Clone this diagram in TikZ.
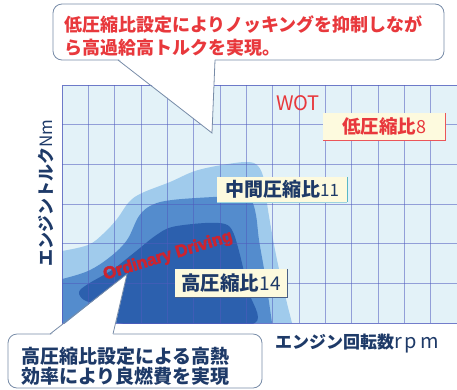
\documentclass[tikz,border=0pt]{standalone}
\usepackage{fontspec}
\setmainfont{Liberation Sans}
\newfontfamily\cjk{Noto Sans CJK JP}
\newfontfamily\sansbold{Liberation Sans}[FakeBold=3]
\definecolor{bgc}{RGB}{227,242,248}
\definecolor{lb}{RGB}{160,203,236}
\definecolor{mb}{RGB}{84,140,205}
\definecolor{db}{RGB}{44,96,174}
\definecolor{gridc}{RGB}{80,92,190}
\definecolor{navy}{RGB}{30,58,104}
\definecolor{tred}{RGB}{232,56,60}
\definecolor{ordred}{RGB}{204,36,48}
\definecolor{cream}{RGB}{253,250,222}
\definecolor{callb}{RGB}{120,140,168}
\definecolor{teal}{RGB}{90,184,200}
\tikzset{
  callbox/.style={draw=callb, fill=white, line width=0.8pt, rounded corners=9pt},
  lblbox/.style={fill=cream, inner sep=0pt, font=\cjk},
  gridline/.style={gridc, opacity=0.55, line width=0.7pt},
}
\begin{document}
\begin{tikzpicture}[x=1pt,y=-1pt]
\useasboundingbox (0,0) rectangle (457,389);
% chart background
\fill[bgc] (62,85) rectangle (457,323);
% regions
\fill[lb] plot[smooth, tension=0.6] coordinates {(62,251) (88,245) (103,234) (117,219) (129,202) (142,193) (170,182) (195,171) (222,165) (247,162) (258,166) (264,180) (268,210) (276,255) (285,295) (292,323)} -- (62,323) -- cycle;
\fill[mb] plot[smooth, tension=0.6] coordinates {(62,279) (88,271) (110,257) (127,240) (139,216) (152,205) (172,200) (213,197) (240,196) (251,200) (256,215) (259,240) (265,275) (272,323)} -- (62,323) -- cycle;
\fill[db] plot[smooth cycle, tension=0.55] coordinates {(118,323) (116,306) (98,304) (84,300) (79,292) (88,284) (112,270) (135,252) (155,236) (172,227) (205,223) (225,224) (233,232) (240,255) (248,290) (255,323) (190,324)};
\fill[white] (60,323.5) rectangle (300,332);
% grid
\foreach \i in {1,...,15} \draw[gridline] ({62+26.33*\i},85) -- ({62+26.33*\i},323);
\foreach \j in {1,...,5} \draw[gridline] (62,{85+39.67*\j}) -- (457,{85+39.67*\j});
\draw[gridc, line width=1pt, opacity=0.8] (457,85) -- (62,85) -- (62,323) -- (457,323);
% labels
\node[font=\cjk\fontsize{20}{20}\selectfont, text=tred] (wot) at (298,103) {WOT};
\node[lblbox, minimum width=122pt, minimum height=27pt, text=tred] (low) at (384,126.5) {\bfseries\fontsize{18.5}{19}\selectfont 低圧縮比\mdseries\fontsize{18}{19}\selectfont 8};
\draw[tred!85, line width=1.3pt] (low.north east) -- (low.south east) -- (low.south west);
\node[lblbox, minimum width=130pt, minimum height=25pt, text=navy] (mid) at (282,189.5) {\bfseries\fontsize{19}{19}\selectfont 中間圧縮比\mdseries\fontsize{17}{19}\selectfont 11};
\draw[teal, line width=1.3pt] (mid.north east) -- (mid.south east);
\draw[teal!60, line width=0.6pt] (mid.south east) -- (mid.south west);
\node[lblbox, minimum width=112pt, minimum height=28pt, text=navy] (high) at (231,283) {\bfseries\fontsize{19.5}{19}\selectfont 高圧縮比\mdseries\fontsize{19}{19}\selectfont 14};
\draw[navy!80, line width=1.1pt] (high.north east) -- (high.south east) -- (high.south west);
\node[rotate=17, text=ordred, font=\sansbold\bfseries\fontsize{17}{17}\selectfont, inner sep=0pt] (ord) at (168,256) {Ordinary Driving};
% axis labels
\node[rotate=90, text=navy, font=\cjk\fontsize{17}{17}\selectfont] (ylab) at (46,193) {\bfseries エンジントルク\mdseries Nm};
\node[anchor=west, text=navy, font=\cjk\fontsize{17}{17}\selectfont, inner sep=0pt] (xlab) at (275,344) {\bfseries エンジン回転数\mdseries\fontsize{20}{20}\selectfont r\kern3pt p\kern3pt m};
% top callout
\node[callbox, minimum width=391pt, minimum height=56pt, inner sep=0pt] (topcall) at (248.5,32) {};
\coordinate (ta) at (118,60);
\coordinate (tb) at (215,60);
\coordinate (tt) at (212,133);
\fill[white] (118,58.5) -- (tt) -- (215,58.5) -- cycle;
\draw[callb, line width=0.8pt] (ta) -- (tt) -- (tb);
\node[anchor=west, align=left, inner sep=0pt, text=tred, font=\cjk\bfseries\fontsize{18}{23}\selectfont] (toptext) at (64,36.5) {低圧縮比設定によりノッキングを抑制しなが\\ら高過給高トルクを実現。};
% bottom callout
\node[callbox, minimum width=254pt, minimum height=54pt, inner sep=0pt] (botcall) at (135,361) {};
\coordinate (ba) at (50,334);
\coordinate (bb) at (113,334);
\coordinate (bt) at (127,274);
\fill[white] (50,335.5) -- (bt) -- (113,335.5) -- cycle;
\draw[callb, line width=0.8pt] (ba) -- (bt) -- (bb);
\node[anchor=west, align=left, inner sep=0pt, text=navy, font=\cjk\bfseries\fontsize{19}{20}\selectfont] (bottext) at (21,366.5) {高圧縮比設定による高熱\\効率により良燃費を実現};
\end{tikzpicture}
\end{document}
